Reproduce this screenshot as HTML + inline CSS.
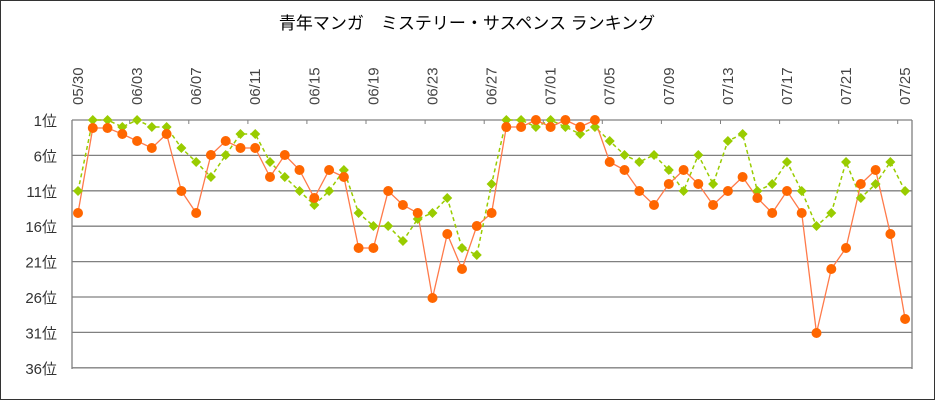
<!DOCTYPE html>
<html><head><meta charset="utf-8"><style>
html,body{margin:0;padding:0;background:#fff;}
svg{display:block;font-family:"Liberation Sans","Noto Sans CJK JP",sans-serif;}
</style></head><body>
<svg id="c" width="935" height="400" xmlns="http://www.w3.org/2000/svg">
<rect x="0.5" y="0.5" width="934" height="399" fill="#fff" stroke="#333" stroke-width="1"/>
<text x="467" y="29" text-anchor="middle" font-size="17" fill="#000">青年マンガ　ミステリー・サスペンス ランキング</text>
<g id="g"></g>
</svg>
<script>
var g=document.getElementById('g');var s='';
var L=72,R=912,T=120,step=7.1;
function Y(r){return T+(r-1)*step;}
for(var i=0;i<8;i++){var y=(T+i*35.4).toFixed(1);s+='<line x1="'+L+'" y1="'+y+'" x2="'+R+'" y2="'+y+'" stroke="#808080" stroke-width="1.3"/>';
s+='<text x="57" y="'+(+y+6)+'" text-anchor="end" font-size="15" fill="#333">'+(1+i*5)+'位</text>';}
s+='<line x1="'+L+'" y1="'+T+'" x2="'+L+'" y2="369" stroke="#808080" stroke-width="1.3"/>';
s+='<line x1="'+R+'" y1="'+T+'" x2="'+R+'" y2="369" stroke="#808080" stroke-width="1.3"/>';
var x0=78,dx=14.77;
var labels=['05/30','06/03','06/07','06/11','06/15','06/19','06/23','06/27','07/01','07/05','07/09','07/13','07/17','07/21','07/25'];
for(var k=0;k<labels.length;k++){var x=x0+k*4*dx;
if(k>0)s+='<line x1="'+(x-dx/2).toFixed(1)+'" y1="'+T+'" x2="'+(x-dx/2).toFixed(1)+'" y2="'+(T+4)+'" stroke="#808080"/>';
s+='<text transform="translate('+(x+5).toFixed(1)+',105) rotate(-90)" font-size="15" fill="#444">'+labels[k]+'</text>';}
var o=[213,128,128,134,141,148,134,191,213,155,141,148,148,177,155,170,198,170,177,248,248,191,205,213,298,234,269,226,213,127,127,120,127,120,127,120,162,170,191,205,184,170,184,205,191,177,198,213,191,213,333,269,248,184,170,234,319];
var gr=[191,120,120,127,120,127,127,148,162,177,155,134,134,162,177,191,205,191,170,213,226,226,241,219,213,198,248,255,184,120,120,127,120,127,134,127,141,155,162,155,170,191,155,184,141,134,191,184,162,191,226,213,162,198,184,162,191];
var pg='',po='';
for(var i=0;i<gr.length;i++){pg+=(x0+i*dx).toFixed(1)+','+gr[i]+' ';po+=(x0+i*dx).toFixed(1)+','+o[i]+' ';}
s+='<polyline points="'+pg+'" fill="none" stroke="#99cc00" stroke-width="1.5" stroke-dasharray="4,3"/>';
s+='<polyline points="'+po+'" fill="none" stroke="#ff7a4a" stroke-width="1.3"/>';
for(var i=0;i<gr.length;i++){var x=x0+i*dx,y=gr[i];
s+='<polygon points="'+x+','+(y-5)+' '+(x+5)+','+y+' '+x+','+(y+5)+' '+(x-5)+','+y+'" fill="#99cc00"/>';}
for(var i=0;i<o.length;i++){s+='<circle cx="'+(x0+i*dx).toFixed(1)+'" cy="'+o[i]+'" r="5" fill="#ff6600"/>';}
g.innerHTML=s;
</script>
</body></html>
